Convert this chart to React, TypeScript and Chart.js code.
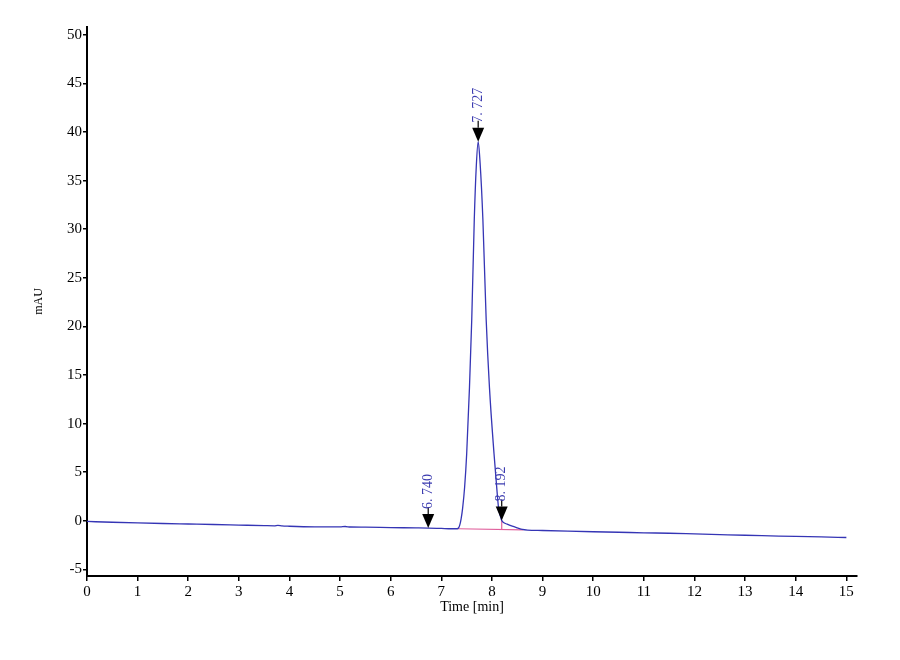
import React, { useEffect, useRef } from "react";
import { Chart, registerables } from "chart.js";

Chart.register(...registerables);

// Chromatogram trace (time in min, signal in mAU)
const timeMin = [
  0.0, 0.5, 1.0, 1.5, 2.0, 2.5, 3.0, 3.5, 3.7, 3.77, 3.85, 4.0, 4.5, 5.0, 5.1, 5.2, 5.5, 6.0, 6.5,
  6.74, 7.0, 7.2, 7.3, 7.33, 7.36, 7.39, 7.42, 7.46, 7.5, 7.555, 7.6, 7.65, 7.69, 7.727, 7.765,
  7.82, 7.885, 7.95, 8.04, 8.1, 8.13, 8.17, 8.19, 8.22, 8.3, 8.4, 8.5, 8.6, 8.7, 9.0, 9.5, 10.0,
  10.5, 11.0, 11.5, 12.0, 12.5, 13.0, 13.5, 14.0, 14.5, 15.0,
];
const signalMAU = [
  -0.07, -0.15, -0.22, -0.28, -0.33, -0.38, -0.44, -0.5, -0.52, -0.47, -0.53, -0.56, -0.62, -0.63,
  -0.59, -0.64, -0.66, -0.7, -0.73, -0.75, -0.79, -0.82, -0.82, -0.78, -0.5, 0.2, 1.3, 3.5, 6.9,
  13.7, 20.7, 31.0, 36.5, 39.0, 36.8, 31.0, 20.7, 13.7, 6.9, 3.0, 1.3, 0.4, 0.05, -0.15, -0.35,
  -0.55, -0.72, -0.88, -0.95, -1.0, -1.07, -1.13, -1.18, -1.24, -1.28, -1.35, -1.42, -1.49, -1.55,
  -1.61, -1.66, -1.72,
];

const xTickValues = [0, 1, 2, 3, 4, 5, 6, 7, 8, 9, 10, 11, 12, 13, 14, 15];
const yTickValues = [-5, 0, 5, 10, 15, 20, 25, 30, 35, 40, 45, 50];

const peakTimes = [6.74, 7.727, 8.192];
const peakLabels = ["6. 740", "7. 727", "8. 192"];
const baselineTimes = [7.33, 8.62];
const baselineValues = [-0.82, -0.93];
const dropLineTimes = [8.192];

function interp(xs: number[], ys: number[], t: number): number {
  if (t <= xs[0]) return ys[0];
  for (let i = 1; i < xs.length; i++) {
    if (t <= xs[i]) {
      const f = (t - xs[i - 1]) / (xs[i] - xs[i - 1]);
      return ys[i - 1] + f * (ys[i] - ys[i - 1]);
    }
  }
  return ys[ys.length - 1];
}

const FONT = "'Liberation Serif', 'DejaVu Serif', serif";

const annotatePlugin = {
  id: "annotate",
  beforeDatasetsDraw(chart: any) {
    const { ctx, scales } = chart;
    const x = scales.x;
    const y = scales.y;
    ctx.save();
    ctx.strokeStyle = "#e0609c";
    ctx.lineWidth = 1.2;
    ctx.beginPath();
    ctx.moveTo(x.getPixelForValue(baselineTimes[0]), y.getPixelForValue(baselineValues[0]));
    ctx.lineTo(x.getPixelForValue(baselineTimes[1]), y.getPixelForValue(baselineValues[1]));
    ctx.stroke();
    dropLineTimes.forEach((t) => {
      const b = interp(baselineTimes, baselineValues, t);
      const c = interp(timeMin, signalMAU, t);
      const px = x.getPixelForValue(t);
      ctx.beginPath();
      ctx.moveTo(px, y.getPixelForValue(b));
      ctx.lineTo(px, y.getPixelForValue(c));
      ctx.stroke();
    });
    ctx.restore();
  },
  afterDatasetsDraw(chart: any) {
    const { ctx, scales } = chart;
    const x = scales.x;
    const y = scales.y;
    ctx.save();
    peakTimes.forEach((t, i) => {
      const px = x.getPixelForValue(t);
      const py = y.getPixelForValue(interp(timeMin, signalMAU, t));
      ctx.fillStyle = "#000";
      ctx.beginPath();
      ctx.moveTo(px - 6, py - 14);
      ctx.lineTo(px + 6, py - 14);
      ctx.lineTo(px, py);
      ctx.closePath();
      ctx.fill();
      ctx.strokeStyle = "#000";
      ctx.lineWidth = 1.2;
      ctx.beginPath();
      ctx.moveTo(px, py - 14);
      ctx.lineTo(px, py - 21);
      ctx.stroke();
      ctx.save();
      ctx.translate(px, py - 19);
      ctx.rotate(-Math.PI / 2);
      ctx.fillStyle = "#3c3cb0";
      ctx.font = `14px ${FONT}`;
      ctx.textAlign = "left";
      ctx.textBaseline = "middle";
      ctx.fillText(peakLabels[i], 0, 0);
      ctx.restore();
    });
    ctx.restore();
  },
};

export default function App() {
  const canvasRef = useRef<HTMLCanvasElement | null>(null);

  useEffect(() => {
    if (!canvasRef.current) return;
    const points = timeMin.map((t, i) => ({ x: t, y: signalMAU[i] }));
    const chart = new Chart(canvasRef.current, {
      type: "line",
      data: {
        datasets: [
          {
            data: points,
            borderColor: "#3535b5",
            borderWidth: 1.3,
            pointRadius: 0,
            cubicInterpolationMode: "monotone",
            fill: false,
          },
        ],
      },
      options: {
        animation: false,
        responsive: true,
        maintainAspectRatio: false,
        layout: { padding: { left: 0, top: 27, right: 43, bottom: 40 } },
        plugins: { legend: { display: false }, tooltip: { enabled: false } },
        scales: {
          x: {
            type: "linear",
            min: 0,
            max: 15.21,
            afterBuildTicks: (scale: any) => {
              scale.ticks = xTickValues.map((v) => ({ value: v }));
            },
            afterFit: (scale: any) => {
              scale.height = 44;
            },
            border: { display: true, color: "#000", width: 2 },
            grid: {
              drawOnChartArea: false,
              drawTicks: true,
              tickLength: 5,
              color: "#000",
              lineWidth: 1.5,
            },
            ticks: {
              color: "#000",
              font: { family: FONT, size: 15 },
              padding: 2,
              maxRotation: 0,
              autoSkip: false,
            },
            title: {
              display: true,
              text: "Time [min]",
              color: "#000",
              font: { family: FONT, size: 14 },
              padding: { top: 0, bottom: 4 },
            },
          },
          y: {
            type: "linear",
            min: -5.68,
            max: 50.8,
            afterBuildTicks: (scale: any) => {
              scale.ticks = yTickValues.map((v) => ({ value: v }));
            },
            afterFit: (scale: any) => {
              scale.width = 87;
            },
            border: { display: true, color: "#000", width: 2 },
            grid: {
              drawOnChartArea: false,
              drawTicks: true,
              tickLength: 4,
              color: "#000",
              lineWidth: 1.5,
            },
            ticks: {
              color: "#000",
              font: { family: FONT, size: 15 },
              padding: 1,
              autoSkip: false,
            },
            title: {
              display: true,
              text: "mAU",
              color: "#000",
              font: { family: FONT, size: 12 },
              padding: { top: 32, bottom: 0 },
            },
          },
        },
      },
      plugins: [annotatePlugin],
    });
    return () => chart.destroy();
  }, []);

  return (
    <div
      style={{
        position: "absolute",
        left: 0,
        top: 0,
        width: 900,
        height: 660,
        background: "#fff",
      }}
    >
      <canvas ref={canvasRef} />
    </div>
  );
}
